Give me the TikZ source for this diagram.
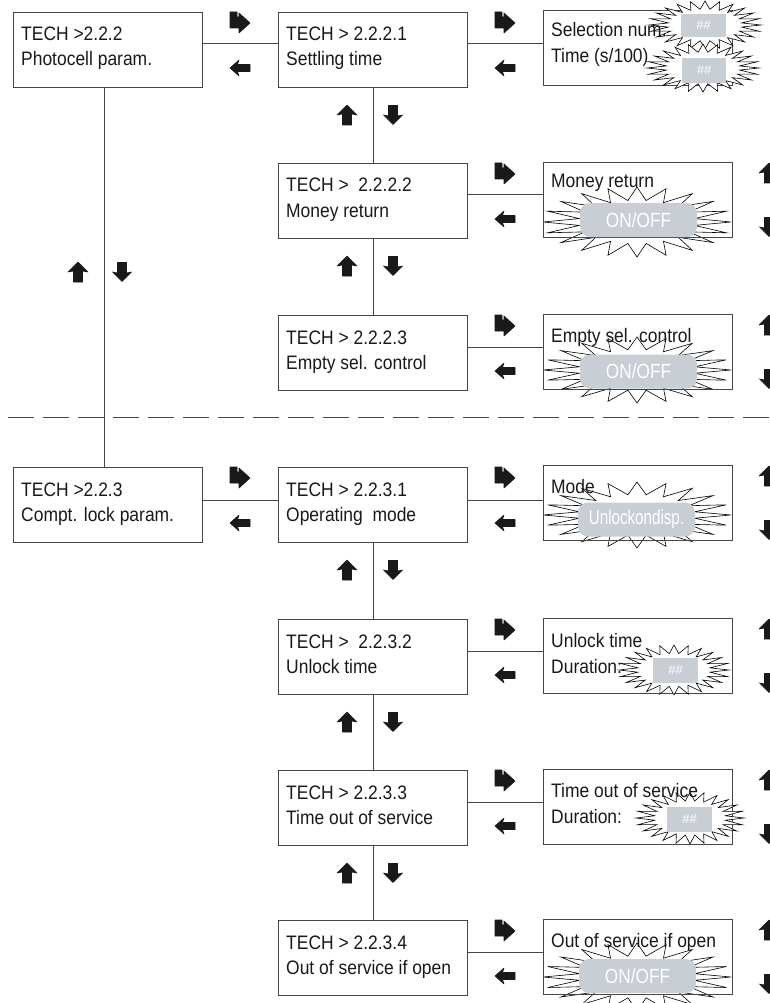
\documentclass[tikz,border=0pt]{standalone}
\usepackage{fontspec}
\setmainfont{Liberation Sans}
\usetikzlibrary{calc}
\definecolor{lgray}{RGB}{200,206,212}
\definecolor{lc}{RGB}{70,70,70}
\definecolor{tc}{RGB}{25,25,25}
\tikzset{
 boxst/.style={draw=lc, line width=0.9pt, minimum width=189pt, minimum height=75pt, inner sep=0pt, anchor=north west},
 txt/.style={inner sep=0pt, anchor=base west, font=\fontsize{19.5}{24}\selectfont, text=tc},
 conn/.style={draw=lc, line width=0.9pt},
 sepline/.style={draw=lc, line width=0.9pt, dash pattern=on 26pt off 9pt},
 glyph/.style={fill=tc, draw=tc, line width=0.6pt, line join=round},
 burst/.style={draw=black, line width=0.6pt, fill=white, line join=miter},
 pill/.style={fill=lgray, rounded corners=10pt, minimum width=117pt, minimum height=34pt, inner sep=0pt, text=white, font=\fontsize{20.5}{24}\selectfont},
 hbox/.style={fill=lgray, inner sep=0pt, text=white, font=\fontsize{13}{14}\selectfont},
}
\newcommand{\hs}[1]{\scalebox{0.895}[1]{#1}}
% glyphs
\newcommand{\arRight}[2]{\fill[glyph, shift={(#1,#2)}] (-10,-10) -- (-3,-10) -- (-3,-5) -- (-1,-5) -- (-1,-9) -- (10,1) -- (-1,11) -- (-1,6) -- (-10,6) -- cycle;}
\newcommand{\arLeft}[2]{\fill[glyph, shift={(#1,#2)}] (-10,0) -- (-1,-8) -- (-2.5,-3.5) -- (10,-3.5) -- (10,3.5) -- (-2.5,3.5) -- (-1,8) -- cycle;}
\newcommand{\arUp}[2]{\fill[glyph, shift={(#1,#2)}] (0,-10) -- (10,0) -- (4.5,-1) -- (4.5,10) -- (-4.5,10) -- (-4.5,-1) -- (-10,0) -- cycle;}
\newcommand{\arDown}[2]{\fill[glyph, shift={(#1,#2)}] (0,9.5) -- (9.5,0) -- (4.5,1) -- (4.5,-9.5) -- (-4.5,-9.5) -- (-4.5,1) -- (-9.5,0) -- cycle;}
% burst: cx cy rx ry n samples(2n+1) depth
\newcommand{\burst}[7]{\draw[burst] plot[domain=0:360, samples=#6] ({#1+#3*(1-#7+#7*cos(#5*\x))*cos(\x)}, {#2+#4*(1-#7+#7*cos(#5*\x))*sin(\x)}) -- cycle;}
% box with two lines
\newcommand{\tbox}[5]{%
 \node[boxst] (#1) at (#2,#3) {};
 \node[txt] (#1a) at ($(#1.north west)+(8,29)$) {\hs{#4}};
 \node[txt] (#1b) at ($(#1.north west)+(8,54)$) {\hs{#5}};
}
\begin{document}
\begin{tikzpicture}[x=1pt, y=-1pt]
\useasboundingbox (0,0) rectangle (770,1003);
\clip (0,0) rectangle (770,1003);

% ON/OFF bursts (behind box borders)
\burst{637}{222}{94}{35}{20}{41}{0.19}
\burst{637}{370}{94}{33}{20}{41}{0.19}
\burst{637}{515}{94}{33}{20}{41}{0.19}
\burst{637}{977}{94}{34}{20}{41}{0.19}

% left column
\tbox{A}{13}{12}{TECH >2.2.2}{Photocell param.}
\tbox{D}{13}{467}{TECH >2.2.3}{Compt. lock param.}

% middle column
\tbox{M1}{278}{12}{TECH > 2.2.2.1}{Settling time}
\tbox{M2}{278}{163}{TECH >\ \ 2.2.2.2}{Money return}
\tbox{M3}{278}{315}{TECH > 2.2.2.3}{Empty sel. control}
\tbox{M4}{278}{467}{TECH > 2.2.3.1}{Operating\ \ mode}
\tbox{M5}{278}{619}{TECH >\ \ 2.2.3.2}{Unlock time}
\tbox{M6}{278}{770}{TECH > 2.2.3.3}{Time out of service}
\tbox{M7}{278}{920}{TECH > 2.2.3.4}{Out of service if open}

% right column boxes
\node[boxst] (C1) at (543,10) {};
\node[boxst] (C2) at (543,162) {};
\node[boxst] (C3) at (543,314) {};
\node[boxst] (C4) at (543,465) {};
\node[boxst] (C5) at (543,618) {};
\node[boxst] (C6) at (543,769) {};
\node[boxst] (C7) at (543,919) {};

% ## bursts
\burst{705}{25}{56}{24}{24}{49}{0.17}
\burst{703}{68}{56}{24}{24}{49}{0.17}
\burst{674}{670}{55}{25}{24}{49}{0.17}
\burst{690}{818}{54}{26}{24}{49}{0.17}

% value fields
\node[hbox, minimum width=45pt, minimum height=23pt] (v1) at (703.5,25.5) {\#\#};
\node[hbox, minimum width=44pt, minimum height=25pt] (v2) at (704,70.5) {\#\#};
\node[hbox, minimum width=45pt, minimum height=25pt] (v5) at (675.5,670.5) {\#\#};
\node[hbox, minimum width=45pt, minimum height=25pt] (v6) at (689.5,819.5) {\#\#};
\node[pill] (p2) at (638.5,220) {\scalebox{0.84}[1]{ON/OFF}};
\node[pill] (p3) at (638.5,371.5) {\scalebox{0.84}[1]{ON/OFF}};
\node[pill] (p4) at (636.5,519.5) {\scalebox{0.74}[1]{Unlockondisp.}};
\node[pill] (p7) at (637.5,976) {\scalebox{0.84}[1]{ON/OFF}};

% right column texts
\node[txt] (C1a) at ($(C1.north west)+(8,27)$) {\hs{Selection num.}};
\node[txt] (C1b) at ($(C1.north west)+(8,53)$) {\hs{Time (s/100)}};
\node[txt] (C2a) at ($(C2.north west)+(8,26)$) {\hs{Money return}};
\node[txt] (C3a) at ($(C3.north west)+(8,28)$) {\hs{Empty sel. control}};
\node[txt] (C4a) at ($(C4.north west)+(8,28)$) {\hs{Mode}};
\node[txt] (C5a) at ($(C5.north west)+(8,29)$) {\hs{Unlock time}};
\node[txt] (C5b) at ($(C5.north west)+(8,55)$) {\hs{Duration:}};
\node[txt] (C6a) at ($(C6.north west)+(8,28)$) {\hs{Time out of service}};
\node[txt] (C6b) at ($(C6.north west)+(8,54)$) {\hs{Duration:}};
\node[txt] (C7a) at ($(C7.north west)+(8,28)$) {\hs{Out of service if open}};

% horizontal connectors
\draw[conn] ($(A.north east)+(0,31)$) coordinate (t0) -- (t0 -| M1.west);
\draw[conn] ($(D.north east)+(0,33)$) coordinate (t4) -- (t4 -| M4.west);
\draw[conn] ($(M1.north east)+(0,31)$) coordinate (r1) -- (r1 -| C1.west);
\draw[conn] ($(M2.north east)+(0,31)$) coordinate (r2) -- (r2 -| C2.west);
\draw[conn] ($(M3.north east)+(0,32)$) coordinate (r3) -- (r3 -| C3.west);
\draw[conn] ($(M4.north east)+(0,33)$) coordinate (r4) -- (r4 -| C4.west);
\draw[conn] ($(M5.north east)+(0,32)$) coordinate (r5) -- (r5 -| C5.west);
\draw[conn] ($(M6.north east)+(0,32)$) coordinate (r6) -- (r6 -| C6.west);
\draw[conn] ($(M7.north east)+(0,32)$) coordinate (r7) -- (r7 -| C7.west);

% vertical connectors
\coordinate (lx) at (104,0);
\draw[conn] (A.south -| lx) -- (D.north -| lx);
\draw[conn] (M1.south) -- (M2.north);
\draw[conn] (M2.south) -- (M3.north);
\draw[conn] (M4.south) -- (M5.north);
\draw[conn] (M5.south) -- (M6.north);
\draw[conn] (M6.south) -- (M7.north);

% separator
\coordinate (dl) at (8,417);
\coordinate (dr) at (775,417);
\draw[sepline] (dl) -- (dr);

% horizontal arrow glyphs
\foreach \t in {12,467} {\arRight{240}{\t+10} \arLeft{240}{\t+56}}
\foreach \t in {12,163,315,467,619,770,920} {\arRight{505}{\t+10} \arLeft{505}{\t+56}}
% vertical arrow glyphs
\arUp{78}{272} \arDown{122}{272}
\foreach \y in {115,266,570,722,873} {\arUp{347}{\y} \arDown{393}{\y}}
% right edge partial glyphs
\foreach \t in {162,314,465,618,769,919} {\arUp{769}{\t+11} \arDown{769}{\t+65}}
\end{tikzpicture}
\end{document}
